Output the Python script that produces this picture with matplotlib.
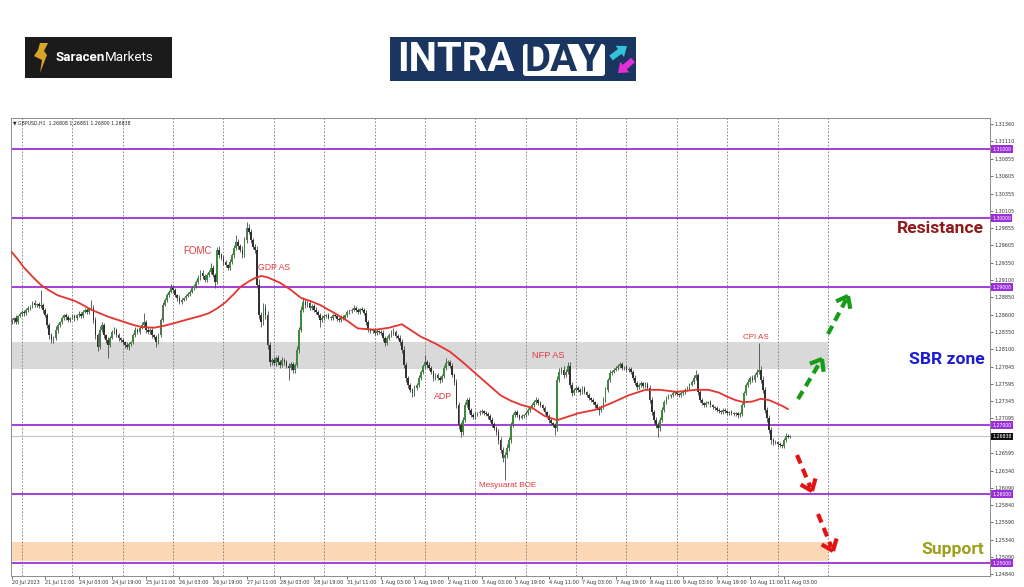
import matplotlib
matplotlib.use("Agg")
import matplotlib.pyplot as plt
import matplotlib.transforms as mtransforms
from matplotlib.patches import Rectangle, Polygon, FancyArrow, FancyBboxPatch
import numpy as np

plt.rcParams['font.family'] = ['DejaVu Sans']

# ---------------- data ----------------
symbol_text = "GBPUSD,H1  1.26808 1.26881 1.26800 1.26838"
open_first = 1.2850

closes = [
    1.2852, 1.2855, 1.2849, 1.2858, 1.2861, 1.2864, 1.2862, 1.2867, 1.2870, 1.2872, 1.2877, 1.2874,
    1.2875, 1.2872, 1.2874, 1.2867, 1.2859, 1.2845, 1.2830, 1.2823, 1.2826, 1.2838, 1.2845, 1.2849,
    1.2855, 1.2859, 1.2856, 1.2852, 1.2855, 1.2858, 1.2855, 1.2859, 1.2861, 1.2858, 1.2864, 1.2867,
    1.2864, 1.2868, 1.2870, 1.2852, 1.2830, 1.2813, 1.2838, 1.2845, 1.2830, 1.2823, 1.2816, 1.2826,
    1.2835, 1.2838, 1.2830, 1.2826, 1.2823, 1.2820, 1.2816, 1.2813, 1.2817, 1.2820, 1.2830, 1.2838,
    1.2835, 1.2841, 1.2845, 1.2849, 1.2838, 1.2835, 1.2838, 1.2830, 1.2828, 1.2820, 1.2830, 1.2852,
    1.2874, 1.2881, 1.2888, 1.2893, 1.2899, 1.2896, 1.2888, 1.2884, 1.2878, 1.2881, 1.2884, 1.2887,
    1.2890, 1.2893, 1.2899, 1.2901, 1.2907, 1.2913, 1.2920, 1.2916, 1.2910, 1.2917, 1.2922, 1.2928,
    1.2917, 1.2907, 1.2954, 1.2946, 1.2942, 1.2936, 1.2932, 1.2928, 1.2936, 1.2946, 1.2957, 1.2965,
    1.2959, 1.2954, 1.2946, 1.2968, 1.2986, 1.2980, 1.2968, 1.2958, 1.2954, 1.2903, 1.2859, 1.2849,
    1.2870, 1.2859, 1.2816, 1.2791, 1.2794, 1.2790, 1.2797, 1.2791, 1.2787, 1.2794, 1.2791, 1.2786,
    1.2783, 1.2788, 1.2780, 1.2787, 1.2809, 1.2838, 1.2867, 1.2878, 1.2874, 1.2877, 1.2870, 1.2872,
    1.2867, 1.2864, 1.2859, 1.2852, 1.2855, 1.2858, 1.2859, 1.2855, 1.2855, 1.2859, 1.2858, 1.2854,
    1.2852, 1.2856, 1.2855, 1.2859, 1.2864, 1.2865, 1.2867, 1.2870, 1.2867, 1.2864, 1.2868, 1.2867,
    1.2862, 1.2849, 1.2838, 1.2836, 1.2838, 1.2833, 1.2836, 1.2835, 1.2833, 1.2826, 1.2819, 1.2826,
    1.2830, 1.2833, 1.2835, 1.2829, 1.2826, 1.2820, 1.2809, 1.2787, 1.2768, 1.2758, 1.2751, 1.2746,
    1.2754, 1.2758, 1.2768, 1.2777, 1.2786, 1.2791, 1.2787, 1.2783, 1.2777, 1.2768, 1.2772, 1.2768,
    1.2765, 1.2771, 1.2783, 1.2790, 1.2791, 1.2786, 1.2772, 1.2762, 1.2729, 1.2700, 1.2690, 1.2707,
    1.2729, 1.2736, 1.2722, 1.2714, 1.2712, 1.2716, 1.2717, 1.2719, 1.2720, 1.2717, 1.2716, 1.2713,
    1.2707, 1.2701, 1.2696, 1.2690, 1.2678, 1.2664, 1.2652, 1.2657, 1.2667, 1.2678, 1.2700, 1.2714,
    1.2719, 1.2714, 1.2710, 1.2713, 1.2714, 1.2717, 1.2722, 1.2725, 1.2729, 1.2733, 1.2736, 1.2732,
    1.2729, 1.2725, 1.2719, 1.2713, 1.2707, 1.2703, 1.2700, 1.2696, 1.2765, 1.2777, 1.2780, 1.2772,
    1.2777, 1.2786, 1.2758, 1.2746, 1.2751, 1.2754, 1.2751, 1.2748, 1.2754, 1.2748, 1.2743, 1.2739,
    1.2736, 1.2733, 1.2729, 1.2725, 1.2722, 1.2726, 1.2736, 1.2751, 1.2765, 1.2775, 1.2777, 1.2780,
    1.2783, 1.2786, 1.2788, 1.2783, 1.2784, 1.2780, 1.2781, 1.2777, 1.2768, 1.2761, 1.2755, 1.2758,
    1.2761, 1.2757, 1.2759, 1.2754, 1.2736, 1.2719, 1.2707, 1.2700, 1.2696, 1.2707, 1.2722, 1.2733,
    1.2739, 1.2742, 1.2743, 1.2746, 1.2748, 1.2745, 1.2743, 1.2746, 1.2748, 1.2751, 1.2754, 1.2758,
    1.2762, 1.2768, 1.2772, 1.2748, 1.2736, 1.2732, 1.2729, 1.2732, 1.2733, 1.2729, 1.2726, 1.2725,
    1.2722, 1.2720, 1.2719, 1.2722, 1.2720, 1.2717, 1.2719, 1.2717, 1.2716, 1.2717, 1.2714, 1.2716,
    1.2729, 1.2746, 1.2758, 1.2762, 1.2768, 1.2765, 1.2772, 1.2777, 1.2780, 1.2765, 1.2751, 1.2722,
    1.2710, 1.2693, 1.2678, 1.2675, 1.2675, 1.2672, 1.2671, 1.2670, 1.2678, 1.2684, 1.2683, 1.26838,
]

# upper / lower wick lengths in pips
wick_up = [
    3, 2, 4, 2, 3, 2, 3, 2, 3, 2, 3, 4,
    2, 3, 21, 3, 2, 4, 3, 4, 3, 5, 3, 2,
    3, 2, 3, 4, 2, 3, 3, 2, 4, 3, 2, 3,
    3, 2, 11, 4, 5, 3, 6, 4, 3, 2, 4, 3,
    3, 4, 2, 3, 2, 3, 2, 4, 3, 2, 3, 4,
    3, 2, 4, 13, 3, 4, 2, 3, 2, 3, 4, 3,
    4, 3, 4, 3, 5, 4, 3, 2, 4, 3, 2, 3,
    3, 2, 3, 4, 3, 4, 5, 4, 3, 4, 3, 7,
    4, 3, 4, 5, 3, 4, 3, 2, 4, 3, 4, 10,
    4, 3, 5, 4, 8, 5, 4, 3, 4, 6, 8, 5,
    7, 5, 6, 4, 3, 4, 3, 4, 3, 4, 3, 3,
    4, 3, 4, 3, 5, 4, 5, 8, 4, 3, 4, 3,
    3, 4, 3, 3, 4, 3, 2, 3, 3, 2, 3, 3,
    2, 3, 3, 2, 3, 3, 2, 4, 3, 3, 2, 3,
    3, 4, 3, 2, 3, 2, 3, 2, 3, 4, 3, 3,
    3, 4, 6, 3, 3, 4, 4, 5, 4, 3, 3, 2,
    4, 3, 4, 3, 3, 10, 3, 4, 3, 3, 4, 3,
    3, 3, 4, 7, 3, 3, 4, 3, 5, 4, 4, 5,
    4, 3, 4, 3, 3, 4, 2, 3, 3, 2, 3, 3,
    3, 4, 3, 3, 4, 5, 4, 4, 5, 4, 4, 3,
    3, 3, 2, 3, 2, 3, 3, 2, 3, 3, 5, 3,
    3, 2, 3, 2, 3, 3, 2, 3, 6, 5, 4, 5,
    4, 5, 5, 4, 3, 3, 3, 2, 3, 3, 2, 3,
    2, 3, 2, 3, 3, 3, 4, 4, 3, 4, 3, 3,
    3, 3, 3, 3, 2, 3, 3, 3, 3, 4, 3, 3,
    3, 2, 3, 3, 4, 4, 3, 4, 4, 5, 4, 3,
    3, 3, 2, 3, 2, 3, 2, 3, 2, 3, 3, 3,
    3, 4, 8, 4, 3, 3, 2, 3, 2, 3, 2, 2,
    2, 3, 2, 2, 3, 2, 2, 3, 2, 2, 2, 3,
    3, 4, 3, 4, 3, 4, 3, 4, 39, 5, 6, 4,
    4, 5, 4, 3, 3, 2, 3, 2, 3, 4, 3, 2,
]
wick_dn = [
    3, 4, 2, 3, 2, 3, 4, 2, 3, 3, 2, 3,
    3, 2, 3, 4, 3, 4, 5, 4, 4, 3, 4, 3,
    2, 3, 4, 3, 3, 2, 4, 3, 2, 3, 3, 2,
    3, 3, 2, 4, 5, 6, 3, 3, 4, 4, 19, 3,
    2, 3, 3, 4, 3, 3, 4, 3, 4, 3, 2, 3,
    3, 3, 2, 3, 4, 3, 3, 4, 3, 7, 3, 3,
    3, 2, 3, 3, 2, 4, 3, 4, 3, 3, 2, 3,
    2, 3, 2, 3, 2, 3, 3, 4, 3, 3, 2, 3,
    3, 8, 3, 4, 3, 4, 3, 4, 3, 3, 4, 3,
    4, 3, 4, 3, 4, 3, 4, 3, 4, 5, 6, 7,
    4, 5, 6, 5, 4, 3, 4, 4, 5, 3, 4, 3,
    18, 4, 5, 4, 3, 4, 3, 3, 4, 3, 3, 4,
    3, 3, 3, 10, 3, 3, 3, 2, 3, 3, 2, 3,
    3, 2, 3, 3, 2, 3, 3, 2, 3, 3, 3, 2,
    3, 4, 3, 3, 2, 3, 2, 3, 3, 4, 4, 3,
    3, 3, 2, 3, 3, 4, 5, 4, 5, 4, 3, 5,
    4, 3, 3, 3, 3, 3, 4, 3, 3, 4, 3, 3,
    4, 3, 3, 3, 3, 4, 3, 4, 5, 6, 7, 4,
    3, 3, 4, 3, 3, 3, 3, 2, 3, 3, 3, 4,
    3, 4, 3, 4, 5, 5, 6, 32, 5, 4, 4, 3,
    3, 3, 3, 2, 3, 2, 3, 3, 2, 3, 3, 3,
    3, 3, 3, 3, 4, 3, 3, 10, 4, 3, 3, 4,
    3, 3, 4, 4, 3, 3, 3, 4, 3, 3, 3, 3,
    3, 3, 4, 3, 8, 3, 3, 3, 3, 3, 3, 2,
    2, 3, 3, 3, 3, 2, 3, 3, 3, 3, 4, 3,
    3, 3, 3, 3, 4, 4, 4, 4, 13, 4, 3, 3,
    3, 2, 3, 2, 3, 3, 3, 2, 3, 3, 2, 3,
    2, 3, 3, 4, 3, 3, 3, 3, 2, 3, 3, 3,
    3, 2, 3, 3, 2, 3, 3, 2, 3, 3, 4, 3,
    3, 3, 3, 3, 3, 3, 3, 3, 3, 4, 4, 5,
    5, 4, 5, 4, 3, 4, 3, 4, 3, 3, 2, 2,
]

# moving average
ma_idx = [0, 3, 6, 10, 14, 18, 22, 26, 30, 34, 38, 42, 46, 50, 54, 58, 62, 68, 73, 78, 85, 90,
          94, 98, 102, 106, 109, 113, 116, 119, 122, 125, 128, 133, 138, 143, 147, 151, 154,
          160, 165, 173, 180, 186, 190, 195, 202, 209, 215, 221, 227, 233, 238, 243, 248, 254,
          260, 265, 270, 278, 286, 294, 302, 309, 317, 326, 332, 337, 341, 345, 349, 353, 357,
          361, 364, 367, 370]
ma_val = [1.2951, 1.2940, 1.2928, 1.2915, 1.2903, 1.2895, 1.2888, 1.2884, 1.2880, 1.2874,
          1.2867, 1.2862, 1.2857, 1.2853, 1.2849, 1.2845, 1.2842, 1.2841, 1.2844, 1.2848,
          1.2854, 1.2858, 1.2862, 1.2869, 1.2878, 1.2890, 1.2900, 1.2908, 1.2913, 1.2916,
          1.2914, 1.2910, 1.2906, 1.2896, 1.2884, 1.2879, 1.2874, 1.2867, 1.2862, 1.2851,
          1.2840, 1.2838, 1.2841, 1.2846, 1.2838, 1.2828, 1.2818, 1.2806, 1.2791, 1.2775,
          1.2759, 1.2743, 1.2735, 1.2729, 1.2725, 1.2713, 1.2707, 1.2712, 1.2717, 1.2722,
          1.2732, 1.2743, 1.2751, 1.2751, 1.2748, 1.2751, 1.2751, 1.2747, 1.2741, 1.2736,
          1.2733, 1.2734, 1.2738, 1.2736, 1.2732, 1.2728, 1.2723]

levels = [1.31, 1.30, 1.29, 1.27, 1.26, 1.25]
level_labels = ["1.31000", "1.30000", "1.29000", "1.27000", "1.26000", "1.25000"]
last_price = 1.26838
last_label = "1.26838"
sbr_zone = (1.2781, 1.2820)
support_zone = (1.2503, 1.2530)

ytick_vals = [1.31360, 1.31110, 1.30855, 1.30605, 1.30355, 1.30105, 1.29855, 1.29605,
              1.29350, 1.29100, 1.28850, 1.28600, 1.28350, 1.28100, 1.27845, 1.27595,
              1.27345, 1.27095, 1.26595, 1.26340, 1.26090, 1.25840, 1.25590, 1.25340,
              1.25090, 1.24840]
xtick_labels = ["20 Jul 2023", "21 Jul 11:00", "24 Jul 03:00", "24 Jul 19:00", "25 Jul 11:00",
                "26 Jul 03:00", "26 Jul 19:00", "27 Jul 11:00", "28 Jul 03:00", "28 Jul 19:00",
                "31 Jul 11:00", "1 Aug 03:00", "1 Aug 19:00", "2 Aug 11:00", "3 Aug 03:00",
                "3 Aug 19:00", "4 Aug 11:00", "7 Aug 03:00", "7 Aug 19:00", "8 Aug 11:00",
                "9 Aug 03:00", "9 Aug 19:00", "10 Aug 11:00", "11 Aug 03:00"]
xtick_step = 16
first_day_bar = 5
bars_per_day = 24
n_day_separators = 17

events = [("FOMC", 88.4, 1.29522, 7.0),
          ("GDP AS", 125.1, 1.29283, 6.2),
          ("ADP", 205.6, 1.27406, 6.3),
          ("Mesyuarat BOE", 236.5, 1.26130, 5.9),
          ("NFP AS", 255.6, 1.28014, 6.6),
          ("CPI AS", 354.7, 1.28268, 5.8)]

# ---------------- figure ----------------
W, H = 1024, 587
fig = plt.figure(figsize=(W / 100, H / 100), dpi=100)
fig.patch.set_facecolor('white')

L, R, T, B = 11, 990, 118, 576
ax = fig.add_axes([L / W, 1 - B / H, (R - L) / W, (B - T) / H])
ax.set_facecolor('white')
ax.set_xlim(-0.24, 466.2)
ax.set_ylim(1.248116, 1.314493)

zone_end = first_day_bar + bars_per_day * (n_day_separators - 1)
x_left = -0.24
ax.add_patch(Rectangle((x_left, sbr_zone[0]), zone_end - x_left, sbr_zone[1] - sbr_zone[0],
                       facecolor='#d9d9d9', edgecolor='none', zorder=1))
ax.add_patch(Rectangle((x_left, support_zone[0]), zone_end - x_left, support_zone[1] - support_zone[0],
                       facecolor='#fcd8b6', edgecolor='none', zorder=1))

# day separators
for k in range(n_day_separators):
    ax.axvline(first_day_bar + bars_per_day * k, color='#7a7a7a', lw=0.6,
               ls=(0, (2, 2)), zorder=2)

# levels
for lv in levels:
    ax.axhline(lv, color='#9b30d8', lw=1.3, zorder=2.5)
ax.axhline(last_price, color='#c8c8c8', lw=0.9, zorder=2.4)

# candles
c = np.array(closes)
o = np.concatenate([[open_first], c[:-1]])
hi = np.maximum(o, c) + np.array(wick_up) * 1e-4
lo = np.minimum(o, c) - np.array(wick_dn) * 1e-4
idx = np.arange(len(c))
up = c >= o
ax.vlines(idx, lo, hi, color='#4a4a4a', lw=0.6, zorder=3)
body_b = np.minimum(o, c)
body_h = np.maximum(np.abs(c - o), 0.00010)
ax.bar(idx[up], body_h[up], bottom=body_b[up], width=0.8, color='#3a8c3a', lw=0, zorder=4)
ax.bar(idx[~up], body_h[~up], bottom=body_b[~up], width=0.8, color='#303030', lw=0, zorder=4)

# moving average
ax.plot(ma_idx, ma_val, color='#e3342f', lw=1.3, zorder=5, solid_capstyle='round',
        solid_joinstyle='round')

# event labels
for name, xi, yv, fs in events:
    ax.text(xi, yv, name, color='#e8383d', fontsize=fs, ha='center', va='center',
            family=['Liberation Sans', 'DejaVu Sans'], zorder=6)

# zone labels
ax.text(463.5, 1.29855, "Resistance", color='#8e1a1a', fontsize=12.6, fontweight='bold',
        family=['Roboto', 'DejaVu Sans'], ha='right', va='center', zorder=6)
ax.text(463.5, 1.27949, "SBR zone", color='#1c1cd6', fontsize=12.6, fontweight='bold',
        family=['Roboto', 'DejaVu Sans'], ha='right', va='center', zorder=6)
ax.text(463.5, 1.25200, "Support", color='#9e9e1e', fontsize=12.6, fontweight='bold',
        family=['Roboto', 'DejaVu Sans'], ha='right', va='center', zorder=6)

# header
ax.text(0.002, 0.995, "\u25BC " + symbol_text, transform=ax.transAxes, fontsize=3.3,
        va='top', ha='left', color='#222222', zorder=7)

# axes styling
for s in ax.spines.values():
    s.set_color('#8c8c8c')
    s.set_linewidth(0.7)
ax.yaxis.tick_right()
ax.set_yticks(ytick_vals)
ax.set_yticklabels([f"{v:.5f}" for v in ytick_vals])
ax.tick_params(axis='y', length=2, width=0.5, labelsize=3.5, pad=1.5, colors='#333333')
xt = list(range(0, xtick_step * len(xtick_labels), xtick_step))
ax.set_xticks(xt)
ax.set_xticklabels(xtick_labels)
for lbl in ax.get_xticklabels():
    lbl.set_horizontalalignment('left')
ax.tick_params(axis='x', length=2, width=0.5, labelsize=3.5, pad=1.2, colors='#333333')

trans = mtransforms.blended_transform_factory(ax.transAxes, ax.transData)
for lv, lab in zip(levels, level_labels):
    ax.text(1.0025, lv, lab, transform=trans, fontsize=3.3, color='white', ha='left',
            va='center', clip_on=False, zorder=8,
            bbox=dict(boxstyle='square,pad=0.25', fc='#9b30d8', ec='none'))
ax.text(1.0025, last_price, last_label, transform=trans, fontsize=3.3, color='white',
        ha='left', va='center', clip_on=False, zorder=8,
        bbox=dict(boxstyle='square,pad=0.25', fc='#111111', ec='none'))

# ---------------- overlay (logos, arrows) in pixel coordinates ----------------
ov = fig.add_axes([0, 0, 1, 1], zorder=10)
ov.set_xlim(0, W)
ov.set_ylim(H, 0)
ov.axis('off')
ov.patch.set_alpha(0)


def dashed_arrow(x0, y0, x1, y1, color):
    v = np.array([x1 - x0, y1 - y0], float)
    n = np.hypot(*v)
    u = v / n
    ov.plot([x0, x1 - u[0] * 4], [y0, y1 - u[1] * 4], color=color, lw=3.0,
            ls=(0, (2.2, 1.4)), solid_capstyle='butt', dash_capstyle='butt')
    ang = np.deg2rad(38)
    for sgn in (1, -1):
        rot = np.array([[np.cos(sgn * ang), -np.sin(sgn * ang)],
                        [np.sin(sgn * ang), np.cos(sgn * ang)]])
        d = rot @ (-u) * 13
        ov.plot([x1, x1 + d[0]], [y1, y1 + d[1]], color=color, lw=3.0,
                solid_capstyle='butt')


dashed_arrow(798, 399, 822, 359, '#179c17')
dashed_arrow(828, 334, 848, 296, '#179c17')
dashed_arrow(797, 455, 812, 491, '#e31313')
dashed_arrow(818, 514, 833, 551, '#e31313')

# Saracen Markets logo
ov.add_patch(Rectangle((25, 37), 147, 41, facecolor='#1b1b1b', edgecolor='none'))
ov.add_patch(Polygon([(40, 43), (48, 43), (44, 51), (47, 55), (40, 73), (42, 60), (34, 56),
                      (38, 50)],
                     closed=True, facecolor='#d9a528', edgecolor='none'))
t1 = ov.text(56, 57.5, "Saracen", color='white', fontsize=9.6, fontweight='bold',
             family=['Roboto', 'DejaVu Sans'], ha='left', va='center')
ov.annotate("Markets", xy=(1.0, 0.5), xycoords=t1, color='white', fontsize=9.6,
            family=['Roboto', 'DejaVu Sans'], ha='left', va='center')

# INTRADAY logo
ov.add_patch(Rectangle((390, 37), 246, 44, facecolor='#1a3560', edgecolor='none'))
ov.text(397, 60, "INTRA", color='white', fontsize=29, fontweight='bold',
        family=['Roboto', 'DejaVu Sans'], ha='left', va='center')
ov.add_patch(FancyBboxPatch((523, 44), 82, 32, boxstyle='round,pad=0,rounding_size=3',
                            facecolor='white', edgecolor='none'))
ov.text(564, 60, "DAY", color='#1a3560', fontsize=29, fontweight='bold',
        family=['Roboto', 'DejaVu Sans'], ha='center', va='center')
ov.add_patch(FancyArrow(611, 58, 16, -12, width=6, head_width=14, head_length=9,
                        length_includes_head=True, facecolor='#33c3d8', edgecolor='none'))
ov.add_patch(FancyArrow(633, 60, -15, 13, width=6, head_width=14, head_length=9,
                        length_includes_head=True, facecolor='#e52fd6', edgecolor='none'))

fig.savefig("out.png", dpi=100, facecolor='white')
